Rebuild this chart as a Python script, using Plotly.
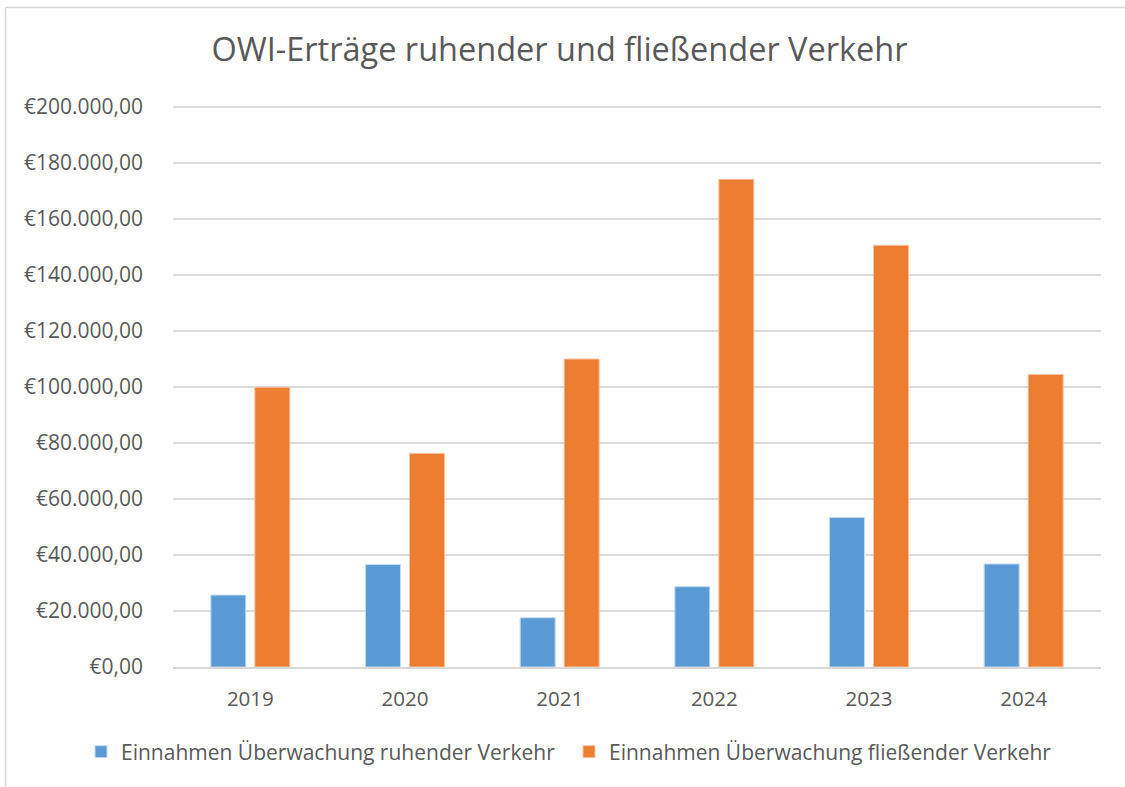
import plotly.graph_objects as go

years = ["2019", "2020", "2021", "2022", "2023", "2024"]
ruhend = [25700, 36600, 17600, 28700, 53400, 36800]
fliessend = [99900, 76300, 110000, 174200, 150600, 104500]
series_names = ["Einnahmen Überwachung ruhender Verkehr", "Einnahmen Überwachung fließender Verkehr"]
title_text = "OWI-Erträge ruhender und fließender Verkehr"

FONT = "Open Sans"
TXT = "#595959"

fig = go.Figure()
fig.add_trace(go.Bar(x=years, y=ruhend, name=series_names[0],
                     marker=dict(color="#5b9bd5", line=dict(color="#c5dcf1", width=1))))
fig.add_trace(go.Bar(x=years, y=fliessend, name=series_names[1],
                     marker=dict(color="#ed7d31", line=dict(color="#f6c4a2", width=1))))

W, H = 1125, 787
L, R, T, B = 173, 24, 105, 120
pw, ph = W - L - R, H - T - B
ytop = 200000 * ph / 560  # so that 200.000 sits at y=107 px

def px(x):
    return (x - L) / pw

def py(y):
    return (H - B - y) / ph

fig.update_layout(
    width=W, height=H,
    margin=dict(l=L, r=R, t=T, b=B),
    paper_bgcolor="white", plot_bgcolor="white",
    font=dict(family=FONT, color=TXT, size=21),
    separators=",.",
    barmode="group", bargap=0.431, bargroupgap=0.205,
    title=dict(text=title_text, x=px(559.5), xref="paper", xanchor="center",
               y=1 - 50 / H, yanchor="middle",
               font=dict(size=32.5, color=TXT, family=FONT)),
    xaxis=dict(showgrid=False, showline=True, linecolor="#d9d9d9", linewidth=1.5,
               ticks="", tickfont=dict(size=20.5, color=TXT), ticklabelstandoff=13),
    yaxis=dict(range=[0, ytop], tick0=0, dtick=20000, tickprefix="€", tickformat=",.2f",
               showgrid=True, gridcolor="#d9d9d9", gridwidth=1.5, zeroline=False,
               showline=False, ticks="", tickfont=dict(size=21, color=TXT),
               ticklabelstandoff=29),
    legend=dict(orientation="h", x=px(81), xanchor="left", y=py(752), yanchor="middle",
                font=dict(size=21, color=TXT), entrywidth=443, entrywidthmode="pixels",
                itemwidth=30, traceorder="normal"),
    shapes=[
        dict(type="line", xref="paper", yref="paper", x0=px(5.5), x1=px(1130),
             y0=py(7.5), y1=py(7.5), line=dict(color="#d9d9d9", width=1.5)),
        dict(type="line", xref="paper", yref="paper", x0=px(5.5), x1=px(5.5),
             y0=py(7.5), y1=py(800), line=dict(color="#d9d9d9", width=1.5)),
    ],
)

fig.write_html("out.html", config={"displayModeBar": False},
               post_script="document.body.style.margin='0';")
